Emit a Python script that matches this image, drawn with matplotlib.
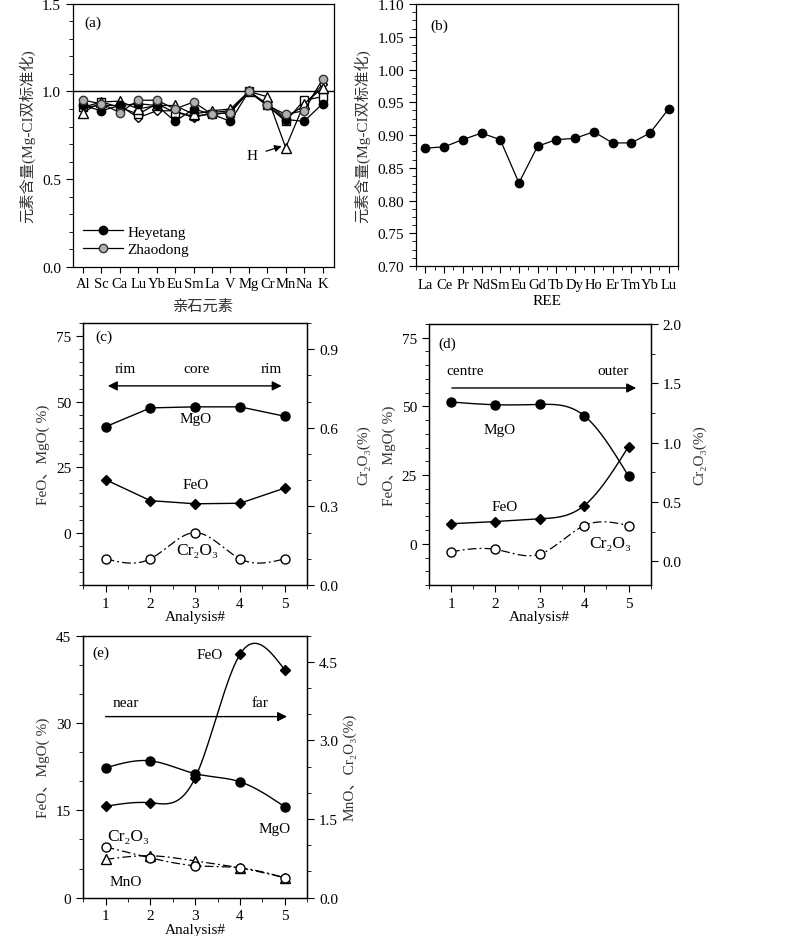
import numpy as np
import matplotlib
matplotlib.use('Agg')
import matplotlib.pyplot as plt
from matplotlib.ticker import MultipleLocator, FormatStrFormatter

plt.rcParams['font.family'] = ['Liberation Serif', 'Noto Sans CJK SC', 'DejaVu Serif']
plt.rcParams['font.size'] = 11
plt.rcParams['axes.linewidth'] = 0.9
plt.rcParams['xtick.direction'] = 'out'
plt.rcParams['ytick.direction'] = 'out'

# (a) lithophile elements, Mg-CI normalised
elements_a = ['Al', 'Sc', 'Ca', 'Lu', 'Yb', 'Eu', 'Sm', 'La', 'V', 'Mg', 'Cr', 'Mn', 'Na', 'K']
heyetang = [0.92, 0.89, 0.92, 0.93, 0.92, 0.83, 0.90, 0.87, 0.83, 1.00, 0.92, 0.84, 0.83, 0.93]
zhaodong = [0.95, 0.93, 0.88, 0.95, 0.95, 0.90, 0.94, 0.87, 0.88, 1.00, 0.92, 0.87, 0.89, 1.07]
series_tri = [0.88, 0.94, 0.945, 0.90, 0.92, 0.92, 0.87, 0.89, 0.90, 1.00, 0.97, 0.68, 0.93, 1.02]
series_sq = [0.91, 0.94, 0.91, 0.87, 0.93, 0.88, 0.86, 0.87, 0.88, 1.00, 0.92, 0.83, 0.95, 0.97]
series_dia = [0.91, 0.92, 0.92, 0.85, 0.89, 0.89, 0.85, 0.88, 0.89, 1.00, 0.93, 0.85, 0.92, 1.04]

# (b) REE
ree = ['La', 'Ce', 'Pr', 'Nd', 'Sm', 'Eu', 'Gd', 'Tb', 'Dy', 'Ho', 'Er', 'Tm', 'Yb', 'Lu']
ree_vals = [0.880, 0.882, 0.893, 0.903, 0.893, 0.827, 0.883, 0.893, 0.895, 0.905, 0.888, 0.888, 0.903, 0.940]

analysis = [1, 2, 3, 4, 5]
# (c)
c_mgo = [40.4, 47.6, 48.0, 48.0, 44.4]
c_feo = [20.2, 12.2, 11.0, 11.2, 17.0]
c_cr = [0.10, 0.10, 0.20, 0.10, 0.10]
# (d)
d_mgo = [51.6, 50.6, 50.7, 46.6, 24.6]
d_feo = [7.3, 8.1, 9.1, 13.9, 35.4]
d_cr = [0.08, 0.10, 0.06, 0.30, 0.30]
# (e)
e_feo = [15.7, 16.3, 20.6, 41.8, 39.1]
e_mgo = [22.3, 23.5, 21.3, 19.9, 15.6]
e_cr = [0.97, 0.76, 0.61, 0.57, 0.38]
e_mno = [0.73, 0.80, 0.70, 0.57, 0.38]


def spline(x, y, n=200):
    # natural cubic spline, only used to draw the smooth connecting line
    x = np.asarray(x, float)
    y = np.asarray(y, float)
    m = len(x)
    h = np.diff(x)
    A = np.zeros((m, m))
    b = np.zeros(m)
    A[0, 0] = A[-1, -1] = 1
    for i in range(1, m - 1):
        A[i, i - 1] = h[i - 1]
        A[i, i] = 2 * (h[i - 1] + h[i])
        A[i, i + 1] = h[i]
        b[i] = 3 * ((y[i + 1] - y[i]) / h[i] - (y[i] - y[i - 1]) / h[i - 1])
    c = np.linalg.solve(A, b)
    xs = np.linspace(x[0], x[-1], n)
    idx = np.clip(np.searchsorted(x, xs) - 1, 0, m - 2)
    dx = xs - x[idx]
    bb = (y[1:] - y[:-1]) / h - h * (2 * c[:-1] + c[1:]) / 3
    d = (c[1:] - c[:-1]) / (3 * h)
    return xs, y[idx] + bb[idx] * dx + c[idx] * dx ** 2 + d[idx] * dx ** 3


DASHDOT = (0, (7, 2.5, 1.5, 2.5))
fig = plt.figure(figsize=(8, 9.37), dpi=100)
lbl_color = '#333333'

# ---------------- (a)
ax = fig.add_axes([0.091, 0.714, 0.326, 0.281])
xa = np.arange(len(elements_a))
ax.axhline(1.0, color='black', lw=1.0)
ax.plot(xa, series_dia, 'k-', lw=0.9, marker='D', ms=4.5, mfc='white', mec='black')
ax.plot(xa, series_sq, 'k-', lw=0.9, marker='s', ms=5.5, mfc='white', mec='black')
ax.plot(xa, series_tri, 'k-', lw=0.9, marker='^', ms=6.5, mfc='white', mec='black')
ax.plot(xa, heyetang, 'k-', lw=0.9, marker='o', ms=6, mfc='black', mec='black', label='Heyetang')
ax.plot(xa, zhaodong, 'k-', lw=0.9, marker='o', ms=6, mfc='#b0b0b0', mec='#333333', label='Zhaodong')
ax.set_xlim(-0.55, 13.6)
ax.set_ylim(0, 1.5)
ax.set_xticks(xa)
ax.set_xticklabels(elements_a, fontsize=10.5)
ax.yaxis.set_major_locator(MultipleLocator(0.5))
ax.yaxis.set_minor_locator(MultipleLocator(0.1))
ax.yaxis.set_major_formatter(FormatStrFormatter('%.1f'))
ax.tick_params(axis='x', length=4, pad=3)
ax.tick_params(axis='y', which='major', length=5)
ax.tick_params(axis='y', which='minor', length=3)
ax.set_ylabel('元素含量(Mg-CI双标准化)', color=lbl_color)
ax.yaxis.set_label_coords(-0.145, 0.5)
ax.set_xlabel('亲石元素', color=lbl_color)
ax.xaxis.set_label_coords(0.5, -0.12)
ax.text(0.045, 0.93, '(a)', transform=ax.transAxes, va='center')
ax.annotate('H', xy=(10.85, 0.69), xytext=(9.2, 0.635), va='center', ha='center',
            arrowprops=dict(arrowstyle='-|>', color='black', lw=0.9, shrinkA=4, shrinkB=1,
                            mutation_scale=10))
ax.legend(loc='lower left', bbox_to_anchor=(0.0, 0.0), frameon=False,
          handlelength=2.6, handletextpad=0.3, labelspacing=0.25, borderaxespad=0.3)

# ---------------- (b)
ax = fig.add_axes([0.52, 0.715, 0.3275, 0.2796])
xb = np.arange(len(ree))
ax.plot(xb, ree_vals, 'k-', lw=0.9, marker='o', ms=6, mfc='black')
ax.set_xlim(-0.5, 13.5)
ax.set_ylim(0.70, 1.10)
ax.set_xticks(xb)
ax.set_xticklabels(ree, fontsize=10.5)
ax.xaxis.set_minor_locator(MultipleLocator(0.5))
ax.yaxis.set_major_locator(MultipleLocator(0.05))
ax.yaxis.set_minor_locator(MultipleLocator(0.0125))
ax.yaxis.set_major_formatter(FormatStrFormatter('%.2f'))
ax.tick_params(which='major', length=5)
ax.tick_params(which='minor', length=3)
ax.set_ylabel('元素含量(Mg-CI双标准化)', color=lbl_color)
ax.yaxis.set_label_coords(-0.176, 0.5)
ax.set_xlabel('REE')
ax.xaxis.set_label_coords(0.5, -0.105)
ax.text(0.053, 0.92, '(b)', transform=ax.transAxes, va='center')


def style_profile(ax, ax2, ylim, ymaj, ymin, y2lim, y2maj, y2min, y2fmt, ylab2, lx, rx):
    ax.set_xlim(0.5, 5.5)
    ax.set_ylim(*ylim)
    ax.set_xticks(analysis)
    ax.xaxis.set_minor_locator(MultipleLocator(0.5))
    ax.yaxis.set_major_locator(MultipleLocator(ymaj))
    ax.yaxis.set_minor_locator(MultipleLocator(ymin))
    ax2.set_ylim(*y2lim)
    ax2.yaxis.set_major_locator(MultipleLocator(y2maj))
    ax2.yaxis.set_minor_locator(MultipleLocator(y2min))
    ax2.yaxis.set_major_formatter(FormatStrFormatter(y2fmt))
    for a in (ax, ax2):
        a.tick_params(which='major', length=5)
        a.tick_params(which='minor', length=3)
    ax.set_xlabel('Analysis#')
    ax.xaxis.set_label_coords(0.5, -0.095)
    ax.set_ylabel('FeO、MgO( %)', color=lbl_color)
    ax.yaxis.set_label_coords(lx, 0.5)
    ax2.set_ylabel(ylab2, color=lbl_color)
    ax2.yaxis.set_label_coords(rx, 0.5)


filled = dict(color='black', mfc='black', mec='black', lw=1.0)

# ---------------- (c)
ax = fig.add_axes([0.104, 0.3746, 0.28, 0.2796])
ax2 = ax.twinx()
ax.plot(analysis, c_mgo, marker='o', ms=6.5, **filled)
ax.plot(analysis, c_feo, marker='D', ms=5.5, **filled)
xs, ys = spline(analysis, c_cr)
ax2.plot(xs, ys, color='black', lw=0.9, ls=DASHDOT)
ax2.plot(analysis, c_cr, ls='none', marker='o', ms=6.5, mfc='white', mec='black')
style_profile(ax, ax2, (-20, 80), 25, 5, (0, 1.0), 0.3, 0.1, '%.1f', 'Cr₂O₃(%)', -0.15, 1.22)
ax.annotate('', xy=(1.05, 56), xytext=(4.93, 56),
            arrowprops=dict(arrowstyle='<|-|>', color='black', lw=1.0, mutation_scale=14,
                            shrinkA=0, shrinkB=0))
ax.text(1.44, 62.5, 'rim', ha='center', va='center')
ax.text(3.02, 62.5, 'core', ha='center', va='center')
ax.text(4.7, 62.5, 'rim', ha='center', va='center')
ax.text(3.0, 43.6, 'MgO', ha='center', va='center')
ax.text(3.0, 18.3, 'FeO', ha='center', va='center')
ax.text(3.04, -6.7, 'Cr₂O₃', ha='center', va='center', fontsize=12.5)
ax.text(0.054, 0.95, '(c)', transform=ax.transAxes, va='center')

# ---------------- (d)
ax = fig.add_axes([0.536, 0.3746, 0.2775, 0.2786])
ax2 = ax.twinx()
for vals, mk, ms in ((d_mgo, 'o', 6.5), (d_feo, 'D', 5.5)):
    xs, ys = spline(analysis, vals)
    ax.plot(xs, ys, color='black', lw=1.0)
    ax.plot(analysis, vals, ls='none', marker=mk, ms=ms, mfc='black', mec='black')
xs, ys = spline(analysis, d_cr)
ax2.plot(xs, ys, color='black', lw=0.9, ls=DASHDOT)
ax2.plot(analysis, d_cr, ls='none', marker='o', ms=6.5, mfc='white', mec='black')
style_profile(ax, ax2, (-15, 80), 25, 5, (-0.2, 2.0), 0.5, 0.25, '%.1f', 'Cr₂O₃(%)', -0.15, 1.19)
ax.annotate('', xy=(5.17, 56.7), xytext=(1.02, 56.7),
            arrowprops=dict(arrowstyle='-|>', color='black', lw=1.0, mutation_scale=14,
                            shrinkA=0, shrinkB=0))
ax.text(1.32, 63.1, 'centre', ha='center', va='center')
ax.text(4.64, 63.1, 'outer', ha='center', va='center')
ax.text(2.1, 41.5, 'MgO', ha='center', va='center')
ax.text(2.21, 13.4, 'FeO', ha='center', va='center')
ax.text(4.59, 0.2, 'Cr₂O₃', ha='center', va='center', fontsize=12.5)
ax.text(0.045, 0.927, '(d)', transform=ax.transAxes, va='center')

# ---------------- (e)
ax = fig.add_axes([0.104, 0.0409, 0.28, 0.2796])
ax2 = ax.twinx()
for vals, mk, ms in ((e_feo, 'D', 5.5), (e_mgo, 'o', 6.5)):
    xs, ys = spline(analysis, vals)
    ax.plot(xs, ys, color='black', lw=1.0)
    ax.plot(analysis, vals, ls='none', marker=mk, ms=ms, mfc='black', mec='black')
for vals, mk, ms in ((e_mno, '^', 7), (e_cr, 'o', 6.5)):
    xs, ys = spline(analysis, vals)
    ax2.plot(xs, ys, color='black', lw=0.9, ls=DASHDOT)
    ax2.plot(analysis, vals, ls='none', marker=mk, ms=ms, mfc='white', mec='black')
style_profile(ax, ax2, (0, 45), 15, 5, (0, 5.0), 1.5, 0.5, '%.1f', 'MnO、Cr₂O₃(%)', -0.15, 1.16)
ax.annotate('', xy=(5.05, 31.1), xytext=(1.0, 31.1),
            arrowprops=dict(arrowstyle='-|>', color='black', lw=1.0, mutation_scale=14,
                            shrinkA=0, shrinkB=0))
ax.text(1.44, 33.5, 'near', ha='center', va='center')
ax.text(4.44, 33.5, 'far', ha='center', va='center')
ax.text(3.32, 41.7, 'FeO', ha='center', va='center')
ax.text(4.77, 11.8, 'MgO', ha='center', va='center')
ax.text(1.5, 10.6, 'Cr₂O₃', ha='center', va='center', fontsize=12.5)
ax.text(1.44, 2.8, 'MnO', ha='center', va='center')
ax.text(0.04, 0.937, '(e)', transform=ax.transAxes, va='center')

fig.savefig('out.png', dpi=100)
